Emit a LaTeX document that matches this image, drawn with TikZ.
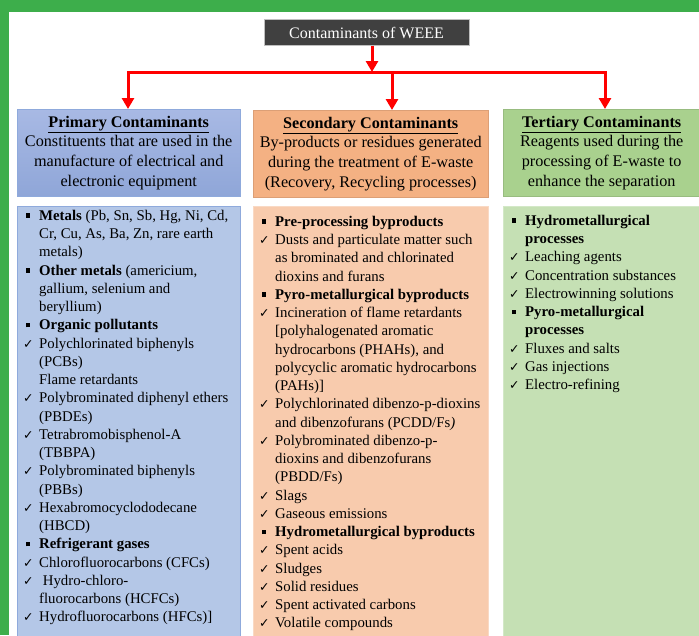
\documentclass[tikz,border=0pt]{standalone}
\usepackage{fontspec}
\setmainfont{Liberation Serif}
\newfontfamily\symfont{DejaVu Sans}
\usetikzlibrary{positioning}
\usetikzlibrary{arrows.meta}

\definecolor{framegreen}{HTML}{3DAE4B}
\definecolor{titlegray}{HTML}{404040}
\definecolor{arrowred}{HTML}{FF0000}
\definecolor{priheadtop}{HTML}{A8B9E4}
\definecolor{priheadbot}{HTML}{8FA6D8}
\definecolor{pribody}{HTML}{B4C7E7}
\definecolor{priline}{HTML}{8FAADC}
\definecolor{sechead}{HTML}{F4B183}
\definecolor{secbody}{HTML}{F8CBAD}
\definecolor{secline}{HTML}{F9D9C4}
\definecolor{terhead}{HTML}{A9D18E}
\definecolor{terbody}{HTML}{C5E0B4}
\definecolor{terline}{HTML}{D3E8C7}

% list marks
\newcommand{\sqb}{\makebox[15pt][l]{\hspace{1.5pt}\rule[2.5pt]{4.5pt}{4.5pt}}}
\newcommand{\chk}{\makebox[15pt][l]{\hspace{-1pt}{\symfont\fontsize{12.5}{12}\selectfont ✓}}}
\newcommand{\ind}{\hspace*{15pt}}

\begin{document}
\begin{tikzpicture}
			[
				x = 1pt, y = 1pt,
				titlebox/.style = {draw = black!25, fill = titlegray, text = white, minimum width = 205pt, minimum height = 26pt, inner sep = 0pt, font = \fontsize{16}{18}\selectfont},
				headbox/.style = {draw, rectangle, anchor = north west, minimum height = 87pt, inner sep = 0pt, align = center, font = \fontsize{16.2}{19.7}\selectfont},
				bodybox/.style = {draw, rectangle, anchor = north west, minimum height = 430pt, inner sep = 0pt},
				listtext/.style = {inner sep = 0pt, align = left, font = \fontsize{14.8}{18.25}\selectfont},
				redline/.style = {draw = arrowred, line width = 3pt, line cap = rect},
				redarrow/.style = {draw = arrowred, line width = 3pt, -{Triangle[width = 12pt, length = 11pt]}}
			]
			\useasboundingbox (0,0) rectangle (699,-635);
			\fill [white] (0,0) rectangle (699,-635);
			\fill [framegreen] (0,0) rectangle (699,-12);
			\fill [framegreen] (0,0) rectangle (9,-635);
			%
			\node (title) [titlebox] at (366.5,-32.5) {Contaminants of WEEE};
			%
			\node (primhead) [headbox, draw = priline, top color = priheadtop, bottom color = priheadbot, minimum width = 223pt] at (17,-109) {\underline{\textbf{Primary Contaminants}}\\Constituents that are used in the\\manufacture of electrical and\\electronic equipment};
			\node (sechead) [headbox, draw = sechead!90!black, fill = sechead, minimum width = 235pt] at (253,-110) {\underline{\textbf{Secondary Contaminants}}\\By-products or residues generated\\during the treatment of E-waste\\(Recovery, Recycling processes)};
			\node (terhead) [headbox, draw = terhead!90!black, fill = terhead, minimum width = 197pt] at (503,-109) {\underline{\textbf{Tertiary Contaminants}}\\Reagents used during the\\processing of E-waste to\\enhance the separation};
			%
			\coordinate (split) at (372,-72);
			\coordinate (leftend) at (128,-72);
			\coordinate (midend) at (392,-72);
			\coordinate (rightend) at (605,-72);
			\draw [redarrow] (title.south -| split) -- (split);
			\draw [redline] (leftend) -- (rightend);
			\draw [redarrow] (leftend) -- (leftend |- primhead.north);
			\draw [redarrow] (midend) -- (midend |- sechead.north);
			\draw [redarrow] (rightend) -- (rightend |- terhead.north);
			%
			\node (primbody) [bodybox, draw = priline, fill = pribody, minimum width = 223pt] at (17,-206) {};
			\node (secbody) [bodybox, draw = secline, fill = secbody, minimum width = 235pt] at (253,-206) {};
			\node (terbody) [bodybox, draw = terline, fill = terbody, minimum width = 197pt] at (503,-206) {};
			%
			\node (primlist) [listtext, below right = 4pt and 7pt of primbody.north west] {%
				\sqb\textbf{Metals} (Pb, Sn, Sb, Hg, Ni, Cd,\\
				\ind Cr, Cu, As, Ba, Zn, rare earth\\
				\ind metals)\\
				\sqb\textbf{Other metals} (americium,\\
				\ind gallium, selenium and\\
				\ind beryllium)\\
				\sqb\textbf{Organic pollutants}\\
				\chk Polychlorinated biphenyls\\
				\ind (PCBs)\\
				\ind Flame retardants\\
				\chk Polybrominated diphenyl ethers\\
				\ind (PBDEs)\\
				\chk Tetrabromobisphenol-A\\
				\ind (TBBPA)\\
				\chk Polybrominated biphenyls\\
				\ind (PBBs)\\
				\chk Hexabromocyclododecane\\
				\ind (HBCD)\\
				\sqb\textbf{Refrigerant gases}\\
				\chk Chlorofluorocarbons (CFCs)\\
				\chk \ Hydro-chloro-\\
				\ind fluorocarbons (HCFCs)\\
				\chk Hydrofluorocarbons (HFCs)]};
			%
			\node (seclist) [listtext, below right = 10pt and 7pt of secbody.north west] {%
				\sqb\textbf{Pre-processing byproducts}\\
				\chk Dusts and particulate matter such\\
				\ind as brominated and chlorinated\\
				\ind dioxins and furans\\
				\sqb\textbf{Pyro-metallurgical byproducts}\\
				\chk Incineration of flame retardants\\
				\ind [polyhalogenated aromatic\\
				\ind hydrocarbons (PHAHs), and\\
				\ind polycyclic aromatic hydrocarbons\\
				\ind (PAHs)]\\
				\chk Polychlorinated dibenzo-p-dioxins\\
				\ind and dibenzofurans (PCDD/Fs\textit{)}\\
				\chk Polybrominated dibenzo-p-\\
				\ind dioxins and dibenzofurans\\
				\ind (PBDD/Fs)\\
				\chk Slags\\
				\chk Gaseous emissions\\
				\sqb\textbf{Hydrometallurgical byproducts}\\
				\chk Spent acids\\
				\chk Sludges\\
				\chk Solid residues\\
				\chk Spent activated carbons\\
				\chk Volatile compounds};
			%
			\node (terlist) [listtext, below right = 9pt and 7pt of terbody.north west] {%
				\sqb\textbf{Hydrometallurgical}\\
				\ind\textbf{processes}\\
				\chk Leaching agents\\
				\chk Concentration substances\\
				\chk Electrowinning solutions\\
				\sqb\textbf{Pyro-metallurgical}\\
				\ind\textbf{processes}\\
				\chk Fluxes and salts\\
				\chk Gas injections\\
				\chk Electro-refining};
			%
		\end{tikzpicture}
\end{document}
